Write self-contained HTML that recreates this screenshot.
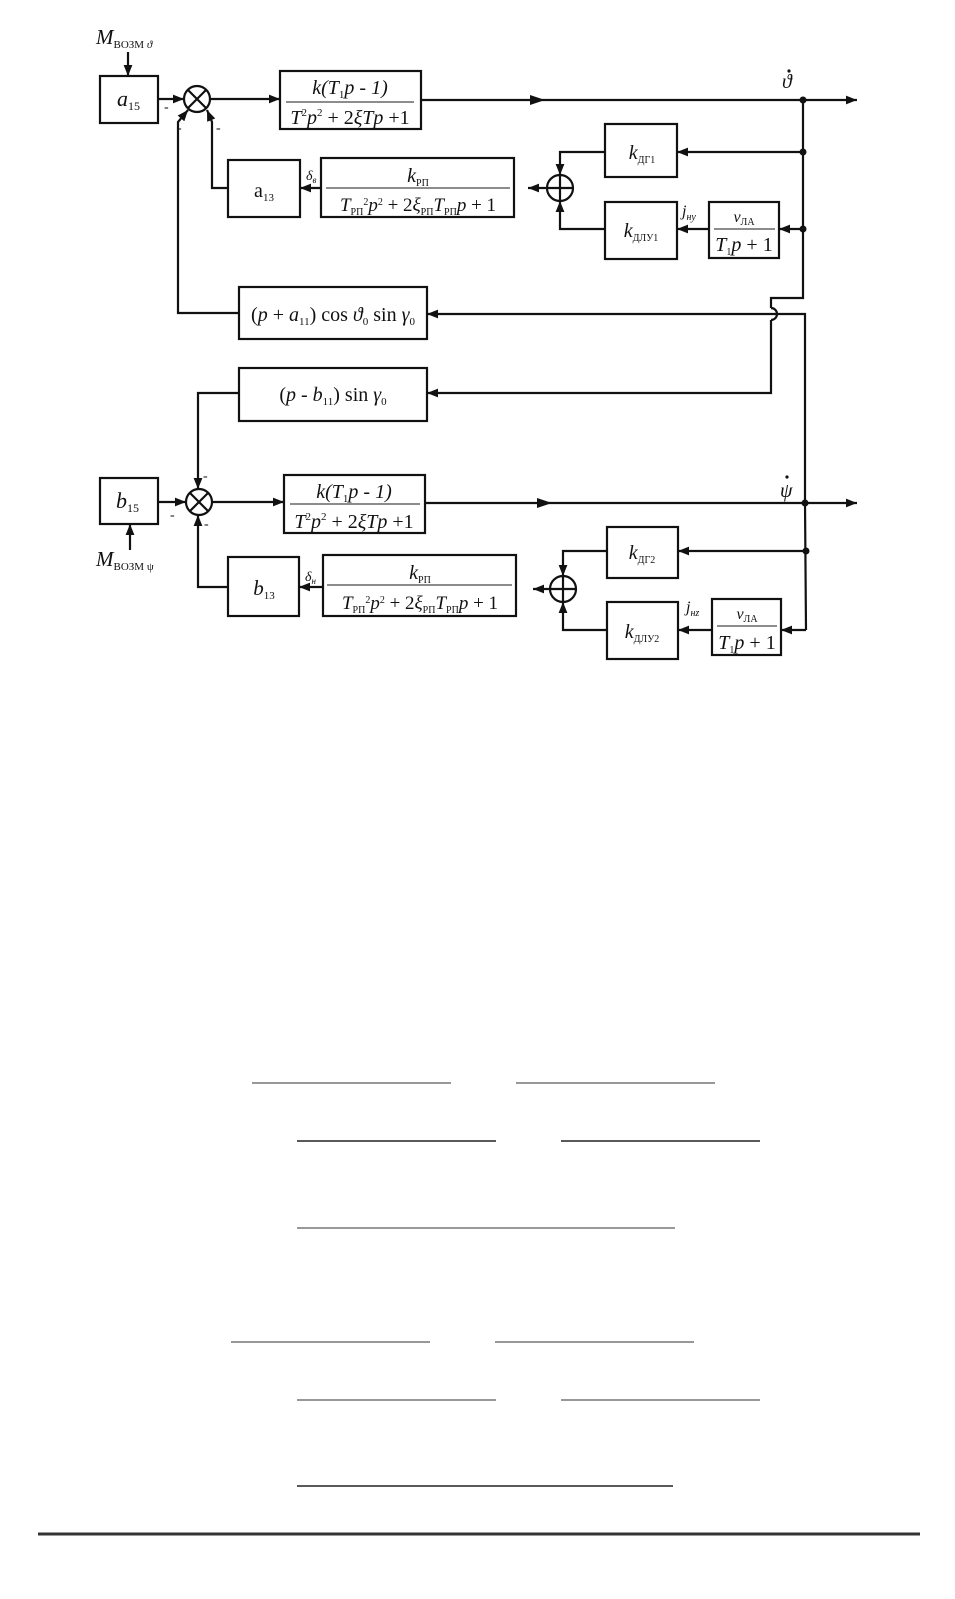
<!DOCTYPE html>
<html><head><meta charset="utf-8">
<style>
html,body{margin:0;padding:0;background:#fff;}
svg{display:block;}
text{font-family:"Liberation Serif","DejaVu Serif",serif;fill:#111;}
.i{font-style:italic;}
</style></head>
<body>
<svg width="955" height="1599" viewBox="0 0 955 1599" xmlns="http://www.w3.org/2000/svg">
<defs>
<marker id="a" viewBox="0 0 10 8" refX="10" refY="4" markerWidth="11" markerHeight="9" markerUnits="userSpaceOnUse" orient="auto">
<path d="M0,0 L10,4 L0,8 z" fill="#111"/></marker>
</defs>
<g stroke="#111" stroke-width="2.2" fill="none">
<line x1="128" y1="52" x2="128" y2="76" marker-end="url(#a)"/>
<rect x="100" y="76" width="58" height="47"/>
<line x1="158" y1="99" x2="184" y2="99" marker-end="url(#a)"/>
<circle cx="197" cy="99" r="13"/>
<line x1="188" y1="90" x2="206" y2="108"/><line x1="206" y1="90" x2="188" y2="108"/>
<line x1="210" y1="99" x2="280" y2="99" marker-end="url(#a)"/>
<rect x="280" y="71" width="141" height="58"/>
<line x1="421" y1="100" x2="857" y2="100" marker-end="url(#a)"/>
<path d="M530,95 L545,100 L530,105 z" fill="#111" stroke="none"/>
<polyline points="803,100 803,298 771,298 771,308"/>
<path d="M771,308 A6,6 0 0 1 771,320"/>
<polyline points="771,320 771,393 427,393" marker-end="url(#a)"/>
<line x1="803" y1="152" x2="677" y2="152" marker-end="url(#a)"/>
<rect x="605" y="124" width="72" height="53"/>
<line x1="803" y1="229" x2="779" y2="229" marker-end="url(#a)"/>
<rect x="709" y="202" width="70" height="56"/>
<line x1="709" y1="229" x2="677" y2="229" marker-end="url(#a)"/>
<rect x="605" y="202" width="72" height="57"/>
<polyline points="605,152 560,152 560,175" marker-end="url(#a)"/>
<polyline points="605,229 560,229 560,201" marker-end="url(#a)"/>
<circle cx="560" cy="188" r="13"/>
<line x1="547" y1="188" x2="573" y2="188"/><line x1="560" y1="175" x2="560" y2="201"/>
<line x1="547" y1="188" x2="528" y2="188" marker-end="url(#a)"/>
<rect x="321" y="158" width="193" height="59"/>
<line x1="321" y1="188" x2="300" y2="188" marker-end="url(#a)"/>
<rect x="228" y="160" width="72" height="57"/>
<polyline points="228,188 212,188 212,122 207,110" marker-end="url(#a)"/>
<rect x="239" y="287" width="188" height="52"/>
<polyline points="239,313 178,313 178,122 188,110" marker-end="url(#a)"/>
<polyline points="805,503 805,314 427,314" marker-end="url(#a)"/>
<rect x="239" y="368" width="188" height="53"/>
<polyline points="239,393 198,393 198,489" marker-end="url(#a)"/>
<rect x="100" y="478" width="58" height="46"/>
<line x1="130" y1="550" x2="130" y2="524" marker-end="url(#a)"/>
<line x1="158" y1="502" x2="186" y2="502" marker-end="url(#a)"/>
<circle cx="199" cy="502" r="13"/>
<line x1="190" y1="493" x2="208" y2="511"/><line x1="208" y1="493" x2="190" y2="511"/>
<line x1="212" y1="502" x2="284" y2="502" marker-end="url(#a)"/>
<rect x="284" y="475" width="141" height="58"/>
<line x1="425" y1="503" x2="857" y2="503" marker-end="url(#a)"/>
<path d="M537,498 L552,503 L537,508 z" fill="#111" stroke="none"/>
<line x1="805" y1="503" x2="806" y2="630"/>
<line x1="806" y1="551" x2="678" y2="551" marker-end="url(#a)"/>
<rect x="607" y="527" width="71" height="51"/>
<line x1="806" y1="630" x2="781" y2="630" marker-end="url(#a)"/>
<rect x="712" y="599" width="69" height="56"/>
<line x1="712" y1="630" x2="678" y2="630" marker-end="url(#a)"/>
<rect x="607" y="602" width="71" height="57"/>
<polyline points="607,551 563,551 563,576" marker-end="url(#a)"/>
<polyline points="607,630 563,630 563,602" marker-end="url(#a)"/>
<circle cx="563" cy="589" r="13"/>
<line x1="550" y1="589" x2="576" y2="589"/><line x1="563" y1="576" x2="563" y2="602"/>
<line x1="550" y1="589" x2="533" y2="589" marker-end="url(#a)"/>
<rect x="323" y="555" width="193" height="61"/>
<line x1="323" y1="587" x2="299" y2="587" marker-end="url(#a)"/>
<rect x="228" y="557" width="71" height="59"/>
<polyline points="228,587 198,587 198,515" marker-end="url(#a)"/>
<g stroke-width="1.5" stroke="#666">
<line x1="286" y1="102" x2="414" y2="102"/>
<line x1="326" y1="188" x2="510" y2="188"/>
<line x1="714" y1="229" x2="775" y2="229"/>
<line x1="290" y1="504" x2="420" y2="504"/>
<line x1="327" y1="585" x2="512" y2="585"/>
<line x1="717" y1="626" x2="777" y2="626"/>
</g>
</g>
<g fill="#111">
<circle cx="803" cy="100" r="3.5"/><circle cx="803" cy="152" r="3.5"/><circle cx="803" cy="229" r="3.5"/>
<circle cx="805" cy="503" r="3.5"/><circle cx="806" cy="551" r="3.5"/>
<circle cx="789" cy="71" r="1.6"/><circle cx="787" cy="477" r="1.6"/>
</g>
<text x="96" y="44" font-size="21" class="i">M<tspan font-size="11" font-style="normal" dy="4">ВОЗМ </tspan><tspan font-size="11">ϑ</tspan></text>
<text x="117" y="106" font-size="22" class="i">a<tspan font-size="12" font-style="normal" dy="4">15</tspan></text>
<text x="164" y="111" font-size="14">-</text>
<text x="177" y="132" font-size="14">-</text>
<text x="216" y="132" font-size="14">-</text>
<text x="350" y="94" font-size="20" text-anchor="middle" class="i">k(T<tspan font-size="11" font-style="normal" dy="4">1</tspan><tspan dy="-4">p - 1)</tspan></text>
<text x="350" y="124" font-size="20" text-anchor="middle" class="i">T<tspan font-size="11" font-style="normal" dy="-8">2</tspan><tspan dy="8">p</tspan><tspan font-size="11" font-style="normal" dy="-8">2</tspan><tspan dy="8" font-style="normal"> + 2</tspan>ξTp<tspan font-style="normal"> +1</tspan></text>
<text x="782" y="88" font-size="20" class="i">ϑ</text>
<text x="642" y="159" font-size="20" text-anchor="middle" class="i">k<tspan font-size="10" font-style="normal" dy="4">ДГ1</tspan></text>
<text x="641" y="237" font-size="20" text-anchor="middle" class="i">k<tspan font-size="10" font-style="normal" dy="4">ДЛУ1</tspan></text>
<text x="682" y="216" font-size="16" class="i">j<tspan font-size="10" dy="4">ну</tspan></text>
<text x="744" y="222" font-size="16" text-anchor="middle" class="i">v<tspan font-size="10" font-style="normal" dy="3">ЛА</tspan></text>
<text x="744" y="251" font-size="20" text-anchor="middle" class="i">T<tspan font-size="10" font-style="normal" dy="4">1</tspan><tspan dy="-4">p</tspan><tspan font-style="normal"> + 1</tspan></text>
<text x="418" y="182" font-size="20" text-anchor="middle" class="i">k<tspan font-size="10" font-style="normal" dy="4">РП</tspan></text>
<text x="418" y="211" font-size="19" text-anchor="middle" class="i">T<tspan font-size="10" font-style="normal" dy="4">РП</tspan><tspan font-size="10" font-style="normal" dy="-10">2</tspan><tspan dy="6">p</tspan><tspan font-size="10" font-style="normal" dy="-6">2</tspan><tspan font-style="normal" dy="6"> + 2</tspan>ξ<tspan font-size="10" font-style="normal" dy="4">РП</tspan><tspan dy="-4">T</tspan><tspan font-size="10" font-style="normal" dy="4">РП</tspan><tspan dy="-4">p</tspan><tspan font-style="normal"> + 1</tspan></text>
<text x="306" y="180" font-size="14" class="i">δ<tspan font-size="9" dy="3">в</tspan></text>
<text x="264" y="197" font-size="20" text-anchor="middle">a<tspan font-size="11" dy="4">13</tspan></text>
<text x="333" y="321" font-size="20" text-anchor="middle">(<tspan class="i">p</tspan> + <tspan class="i">a</tspan><tspan font-size="11" dy="4">11</tspan><tspan dy="-4">) cos </tspan><tspan class="i">ϑ</tspan><tspan font-size="11" dy="4">0</tspan><tspan dy="-4"> sin </tspan><tspan class="i">γ</tspan><tspan font-size="11" dy="4">0</tspan></text>
<text x="333" y="401" font-size="20" text-anchor="middle">(<tspan class="i">p</tspan> -  <tspan class="i">b</tspan><tspan font-size="11" dy="4">11</tspan><tspan dy="-4">) sin </tspan><tspan class="i">γ</tspan><tspan font-size="11" dy="4">0</tspan></text>
<text x="116" y="508" font-size="22" class="i">b<tspan font-size="12" font-style="normal" dy="4">15</tspan></text>
<text x="96" y="566" font-size="21" class="i">M<tspan font-size="11" font-style="normal" dy="4">ВОЗМ ψ</tspan></text>
<text x="203" y="480" font-size="14">-</text>
<text x="170" y="519" font-size="14">-</text>
<text x="204" y="528" font-size="14">-</text>
<text x="354" y="498" font-size="20" text-anchor="middle" class="i">k(T<tspan font-size="11" font-style="normal" dy="4">1</tspan><tspan dy="-4">p - 1)</tspan></text>
<text x="354" y="528" font-size="20" text-anchor="middle" class="i">T<tspan font-size="11" font-style="normal" dy="-8">2</tspan><tspan dy="8">p</tspan><tspan font-size="11" font-style="normal" dy="-8">2</tspan><tspan dy="8" font-style="normal"> + 2</tspan>ξTp<tspan font-style="normal"> +1</tspan></text>
<text x="780" y="497" font-size="20" class="i">ψ</text>
<text x="642" y="559" font-size="20" text-anchor="middle" class="i">k<tspan font-size="10" font-style="normal" dy="4">ДГ2</tspan></text>
<text x="642" y="638" font-size="20" text-anchor="middle" class="i">k<tspan font-size="10" font-style="normal" dy="4">ДЛУ2</tspan></text>
<text x="686" y="612" font-size="16" class="i">j<tspan font-size="10" dy="4">нz</tspan></text>
<text x="747" y="619" font-size="16" text-anchor="middle" class="i">v<tspan font-size="10" font-style="normal" dy="3">ЛА</tspan></text>
<text x="747" y="649" font-size="20" text-anchor="middle" class="i">T<tspan font-size="10" font-style="normal" dy="4">1</tspan><tspan dy="-4">p</tspan><tspan font-style="normal"> + 1</tspan></text>
<text x="420" y="579" font-size="20" text-anchor="middle" class="i">k<tspan font-size="10" font-style="normal" dy="4">РП</tspan></text>
<text x="420" y="609" font-size="19" text-anchor="middle" class="i">T<tspan font-size="10" font-style="normal" dy="4">РП</tspan><tspan font-size="10" font-style="normal" dy="-10">2</tspan><tspan dy="6">p</tspan><tspan font-size="10" font-style="normal" dy="-6">2</tspan><tspan font-style="normal" dy="6"> + 2</tspan>ξ<tspan font-size="10" font-style="normal" dy="4">РП</tspan><tspan dy="-4">T</tspan><tspan font-size="10" font-style="normal" dy="4">РП</tspan><tspan dy="-4">p</tspan><tspan font-style="normal"> + 1</tspan></text>
<text x="305" y="581" font-size="14" class="i">δ<tspan font-size="9" dy="3">н</tspan></text>
<text x="264" y="595" font-size="21" text-anchor="middle" class="i">b<tspan font-size="11" font-style="normal" dy="4">13</tspan></text>
<g stroke="#777" stroke-width="1.6">
<line x1="252" y1="1083" x2="451" y2="1083"/><line x1="516" y1="1083" x2="715" y2="1083"/>
<line x1="297" y1="1141" x2="496" y2="1141" stroke="#222"/><line x1="561" y1="1141" x2="760" y2="1141" stroke="#222"/>
<line x1="297" y1="1228" x2="675" y2="1228" stroke="#999" stroke-width="2"/>
<line x1="231" y1="1342" x2="430" y2="1342"/><line x1="495" y1="1342" x2="694" y2="1342"/>
<line x1="297" y1="1400" x2="496" y2="1400"/><line x1="561" y1="1400" x2="760" y2="1400"/>
<line x1="297" y1="1486" x2="673" y2="1486" stroke="#222"/>
</g>
<line x1="38" y1="1534" x2="920" y2="1534" stroke="#333" stroke-width="3"/>
</svg>
</body></html>
